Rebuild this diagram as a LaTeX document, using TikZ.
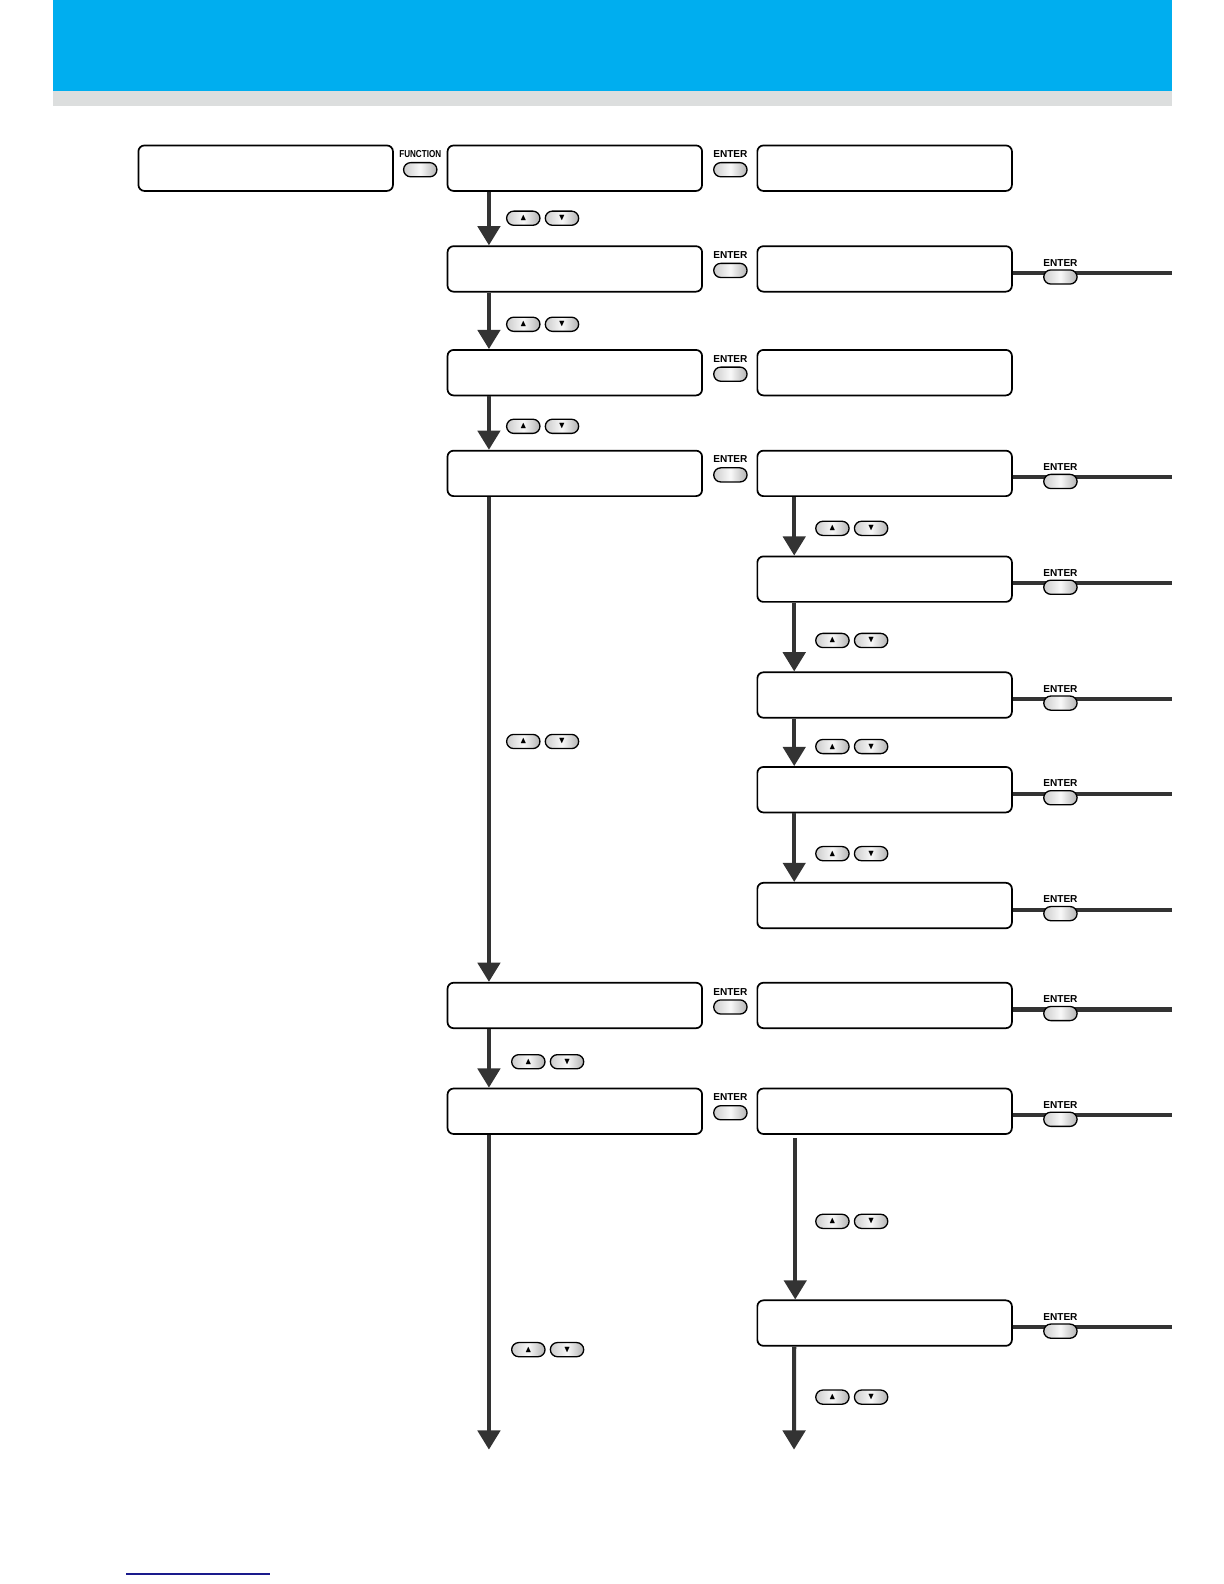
\documentclass[tikz,border=0pt]{standalone}
\usepackage{fontspec}
\setsansfont{Liberation Sans}
\usepackage{amssymb}
\usetikzlibrary{positioning, arrows.meta}
\definecolor{headerblue}{HTML}{00AEEF}
\definecolor{stripgray}{HTML}{DCDEDE}
\definecolor{linkblue}{HTML}{1A1A8C}

\begin{document}
\begin{tikzpicture}[
    x=1pt, y=-1pt,
    screen/.style={draw, line width=1.7pt, rounded corners=6pt, minimum width=252pt, minimum height=45pt, inner sep=0pt},
    key/.style={draw, line width=1.3pt, rounded corners=7pt, minimum width=33pt, minimum height=14pt, inner sep=0pt,
        left color=gray!40, right color=gray!60, middle color=gray!5, font=\small},
    keylabel/.style={font=\sffamily\bfseries\fontsize{10}{10}\selectfont, inner sep=0pt},
    flow/.style={draw=black!80, line width=4pt, -{Triangle[length=19pt, width=22pt]}},
    link/.style={draw=black!80, line width=4pt}]

\useasboundingbox (0,0) rectangle (1211.6,1568);

% Header band
\fill[headerblue] (52,0) rectangle (1160,90);
\fill[stripgray] (52,90) rectangle (1160,105);

% Right margin and loose arrow ends
\coordinate (edge) at (1160,0);
\coordinate (endL) at (484,1435);
\coordinate (endR) at (786,1435);

% Start screen
\node[screen] (start) at (263,166.5) {};

% Main menu column
\node[screen] (m1) at (569,166.5) {};
\node[screen, below=53pt of m1] (m2) {};
\node[screen, below=56pt of m2] (m3) {};
\node[screen, below=53pt of m3] (m4) {};
\node[screen, below=480pt of m4] (m5) {};
\node[screen, below=58pt of m5] (m6) {};

% Setting column
\node[screen, right=53pt of m1] (s1) {};
\node[screen, right=53pt of m2] (s2) {};
\node[screen, right=53pt of m3] (s3) {};
\node[screen, right=53pt of m4] (s4) {};
\node[screen, below=58pt of s4] (s5) {};
\node[screen, below=68pt of s5] (s6) {};
\node[screen, below=47pt of s6] (s7) {};
\node[screen, below=68pt of s7] (s8) {};
\node[screen, right=53pt of m5] (s9) {};
\node[screen, right=53pt of m6] (s10) {};
\node[screen, below=163pt of s10] (s11) {};

% Lines to the next page
\draw[link] ([yshift=-4pt]s2.east) -- ([yshift=-4pt]s2.east -| edge);
\draw[link] ([yshift=-4pt]s4.east) -- ([yshift=-4pt]s4.east -| edge);
\draw[link] ([yshift=-4pt]s5.east) -- ([yshift=-4pt]s5.east -| edge);
\draw[link] ([yshift=-4pt]s6.east) -- ([yshift=-4pt]s6.east -| edge);
\draw[link] ([yshift=-4pt]s7.east) -- ([yshift=-4pt]s7.east -| edge);
\draw[link] ([yshift=-4pt]s8.east) -- ([yshift=-4pt]s8.east -| edge);
\draw[link] ([yshift=-4pt]s9.east) -- ([yshift=-4pt]s9.east -| edge);
\draw[link] ([yshift=-4pt]s10.east) -- ([yshift=-4pt]s10.east -| edge);
\draw[link] ([yshift=-4pt]s11.east) -- ([yshift=-4pt]s11.east -| edge);

% Arrows down the main menu
\draw[flow] ([xshift=-85pt]m1.south) -- ([xshift=-85pt]m2.north);
\draw[flow] ([xshift=-85pt]m2.south) -- ([xshift=-85pt]m3.north);
\draw[flow] ([xshift=-85pt]m3.south) -- ([xshift=-85pt]m4.north);
\draw[flow] ([xshift=-85pt]m4.south) -- ([xshift=-85pt]m5.north);
\draw[flow] ([xshift=-85pt]m5.south) -- ([xshift=-85pt]m6.north);
\draw[flow] ([xshift=-85pt]m6.south) -- (endL);

% Arrows down the settings
\draw[flow] ([xshift=-89.5pt]s4.south) -- ([xshift=-89.5pt]s5.north);
\draw[flow] ([xshift=-89.5pt]s5.south) -- ([xshift=-89.5pt]s6.north);
\draw[flow] ([xshift=-89.5pt]s6.south) -- ([xshift=-89.5pt]s7.north);
\draw[flow] ([xshift=-89.5pt]s7.south) -- ([xshift=-89.5pt]s8.north);
\draw[flow] ([xshift=-88.5pt,yshift=-3pt]s10.south) -- ([xshift=-88.5pt]s11.north);
\draw[flow] ([xshift=-89.5pt]s11.south) -- (endR);

% FUNCTION key
\node[key, right=9pt of start, yshift=-1.5pt] (fn) {};
\node[keylabel, above=4pt of fn] (fnlabel) {\scalebox{0.8}[1]{FUNCTION}};

% ENTER keys, main menu
\node[key, right=10pt of m1, yshift=-1.5pt] (e1) {};
\node[key, right=10pt of m2, yshift=-1.5pt] (e2) {};
\node[key, right=10pt of m3, yshift=-1.5pt] (e3) {};
\node[key, right=10pt of m4, yshift=-1.5pt] (e4) {};
\node[key, right=10pt of m5, yshift=-1.5pt] (e5) {};
\node[key, right=10pt of m6, yshift=-1.5pt] (e6) {};
\node[keylabel, above=4pt of e1] {ENTER};
\node[keylabel, above=4pt of e2] {ENTER};
\node[keylabel, above=4pt of e3] {ENTER};
\node[keylabel, above=4pt of e4] {ENTER};
\node[keylabel, above=4pt of e5] {ENTER};
\node[keylabel, above=4pt of e6] {ENTER};

% ENTER keys, settings
\node[key, right=30pt of s2, yshift=-8pt] (r2) {};
\node[key, right=30pt of s4, yshift=-8pt] (r4) {};
\node[key, right=30pt of s5, yshift=-8pt] (r5) {};
\node[key, right=30pt of s6, yshift=-8pt] (r6) {};
\node[key, right=30pt of s7, yshift=-8pt] (r7) {};
\node[key, right=30pt of s8, yshift=-8pt] (r8) {};
\node[key, right=30pt of s9, yshift=-8pt] (r9) {};
\node[key, right=30pt of s10, yshift=-8pt] (r10) {};
\node[key, right=30pt of s11, yshift=-8pt] (r11) {};
\node[keylabel, above=3pt of r2] {ENTER};
\node[keylabel, above=3pt of r4] {ENTER};
\node[keylabel, above=3pt of r5] {ENTER};
\node[keylabel, above=3pt of r6] {ENTER};
\node[keylabel, above=3pt of r7] {ENTER};
\node[keylabel, above=3pt of r8] {ENTER};
\node[keylabel, above=3pt of r9] {ENTER};
\node[keylabel, above=3pt of r10] {ENTER};
\node[keylabel, above=3pt of r11] {ENTER};

% Up/down keys, main menu
\node[key] (u1) at (518,216) {$\blacktriangle$};
\node[key, right=4pt of u1] (d1) {$\blacktriangledown$};
\node[key] (u2) at (518,321) {$\blacktriangle$};
\node[key, right=4pt of u2] (d2) {$\blacktriangledown$};
\node[key] (u3) at (518,422) {$\blacktriangle$};
\node[key, right=4pt of u3] (d3) {$\blacktriangledown$};
\node[key] (u4) at (518,734) {$\blacktriangle$};
\node[key, right=4pt of u4] (d4) {$\blacktriangledown$};
\node[key] (u5) at (523,1051) {$\blacktriangle$};
\node[key, right=4pt of u5] (d5) {$\blacktriangledown$};
\node[key] (u6) at (523,1336) {$\blacktriangle$};
\node[key, right=4pt of u6] (d6) {$\blacktriangledown$};

% Up/down keys, settings
\node[key] (v1) at (824,523) {$\blacktriangle$};
\node[key, right=4pt of v1] (w1) {$\blacktriangledown$};
\node[key] (v2) at (824,634) {$\blacktriangle$};
\node[key, right=4pt of v2] (w2) {$\blacktriangledown$};
\node[key] (v3) at (824,739) {$\blacktriangle$};
\node[key, right=4pt of v3] (w3) {$\blacktriangledown$};
\node[key] (v4) at (824,845) {$\blacktriangle$};
\node[key, right=4pt of v4] (w4) {$\blacktriangledown$};
\node[key] (v5) at (824,1209) {$\blacktriangle$};
\node[key, right=4pt of v5] (w5) {$\blacktriangledown$};
\node[key] (v6) at (824,1383) {$\blacktriangle$};
\node[key, right=4pt of v6] (w6) {$\blacktriangledown$};

% Footer rule
\draw[linkblue, line width=1.5pt] (125,1558) -- (267,1558);

\end{tikzpicture}
\end{document}
